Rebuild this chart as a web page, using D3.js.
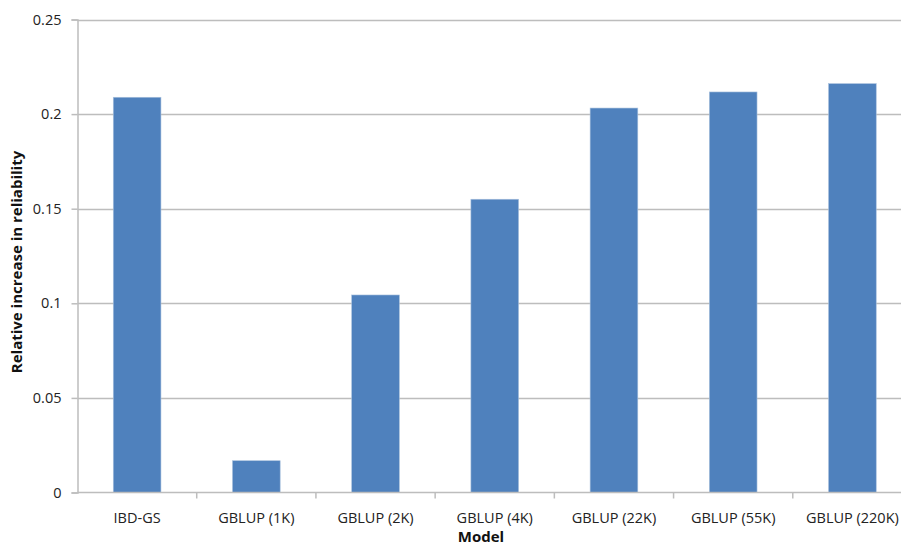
<!DOCTYPE html>
<html>
<head>
<meta charset="utf-8">
<script src="https://cdn.jsdelivr.net/npm/d3@7"></script>
<style>
  html, body { margin: 0; padding: 0; background: #fff; }
  svg { display: block; font-family: "Open Sans", "Liberation Sans", sans-serif; }
</style>
</head>
<body>
<svg id="chart" width="901" height="547"></svg>
<script>
// Relative increase in reliability per genomic prediction model
const models = ["IBD-GS", "GBLUP (1K)", "GBLUP (2K)", "GBLUP (4K)", "GBLUP (22K)", "GBLUP (55K)", "GBLUP (220K)"];
const reliabilityGain = [0.2089, 0.0168, 0.1044, 0.155, 0.2032, 0.2117, 0.2161];
const yTicks = [0, 0.05, 0.1, 0.15, 0.2, 0.25];
const yTickLabels = ["0", "0.05", "0.1", "0.15", "0.2", "0.25"];

const svg = d3.select("#chart");
const plotLeft = 77.5, plotRight = 912, plotTop = 19.5, plotBottom = 492.5;

const x = d3.scaleBand().domain(models).range([plotLeft, plotRight]).paddingInner(0.6).paddingOuter(0.3);
const xCat = d3.scaleBand().domain(models).range([plotLeft, plotRight]);
const y = d3.scaleLinear().domain([0, 0.25]).range([plotBottom, plotTop]);

const gridColor = "#bdbdbd";
const labelSize = 14.5;

// horizontal gridlines
svg.append("g")
  .selectAll("line")
  .data(yTicks.filter(d => d > 0))
  .join("line")
  .attr("x1", plotLeft).attr("x2", plotRight)
  .attr("y1", d => Math.round(y(d)) + 0.5).attr("y2", d => Math.round(y(d)) + 0.5)
  .attr("stroke", gridColor).attr("stroke-width", 1.5);

// bars
svg.append("g")
  .selectAll("rect")
  .data(models)
  .join("rect")
  .attr("x", d => x(d))
  .attr("width", x.bandwidth())
  .attr("y", (d, i) => y(reliabilityGain[i]))
  .attr("height", (d, i) => y(0) - y(reliabilityGain[i]))
  .attr("fill", "#4f81bd")
  .attr("stroke", "#a9c1dd").attr("stroke-width", 0.6);

// y axis
const yAxis = d3.axisLeft(y).tickValues(yTicks).tickFormat((d, i) => yTickLabels[i]).tickSize(6).tickPadding(10);
const gy = svg.append("g").attr("transform", `translate(${plotLeft},0)`).call(yAxis);
gy.select(".domain").attr("stroke", gridColor).attr("stroke-width", 1.5);
gy.selectAll(".tick line").attr("stroke", gridColor).attr("stroke-width", 1.5);
gy.selectAll(".tick text").attr("font-size", labelSize).attr("fill", "#222")
  .attr("font-family", "'Open Sans', sans-serif");

// x axis: ticks at category boundaries
const gx = svg.append("g").attr("transform", `translate(0,${plotBottom})`);
gx.append("line").attr("x1", plotLeft).attr("x2", plotRight).attr("y1", 0).attr("y2", 0)
  .attr("stroke", gridColor).attr("stroke-width", 1.5);
gx.selectAll("line.tk")
  .data(models)
  .join("line").attr("class", "tk")
  .attr("x1", d => xCat(d) + xCat.bandwidth()).attr("x2", d => xCat(d) + xCat.bandwidth())
  .attr("y1", 0).attr("y2", 6)
  .attr("stroke", gridColor).attr("stroke-width", 1.5);
gx.selectAll("text")
  .data(models)
  .join("text")
  .attr("x", d => xCat(d) + xCat.bandwidth() / 2)
  .attr("y", 30)
  .attr("text-anchor", "middle")
  .attr("font-size", labelSize).attr("fill", "#222")
  .text(d => d);

// axis titles
svg.append("text")
  .attr("x", 481).attr("y", 542)
  .attr("text-anchor", "middle")
  .attr("font-size", 15).attr("font-weight", "bold").attr("fill", "#111")
  .text("Model");

svg.append("text")
  .attr("transform", "translate(22,262) rotate(-90)")
  .attr("text-anchor", "middle")
  .attr("font-size", 15).attr("font-weight", "bold").attr("fill", "#111")
  .text("Relative increase in reliability");
</script>
</body>
</html>
